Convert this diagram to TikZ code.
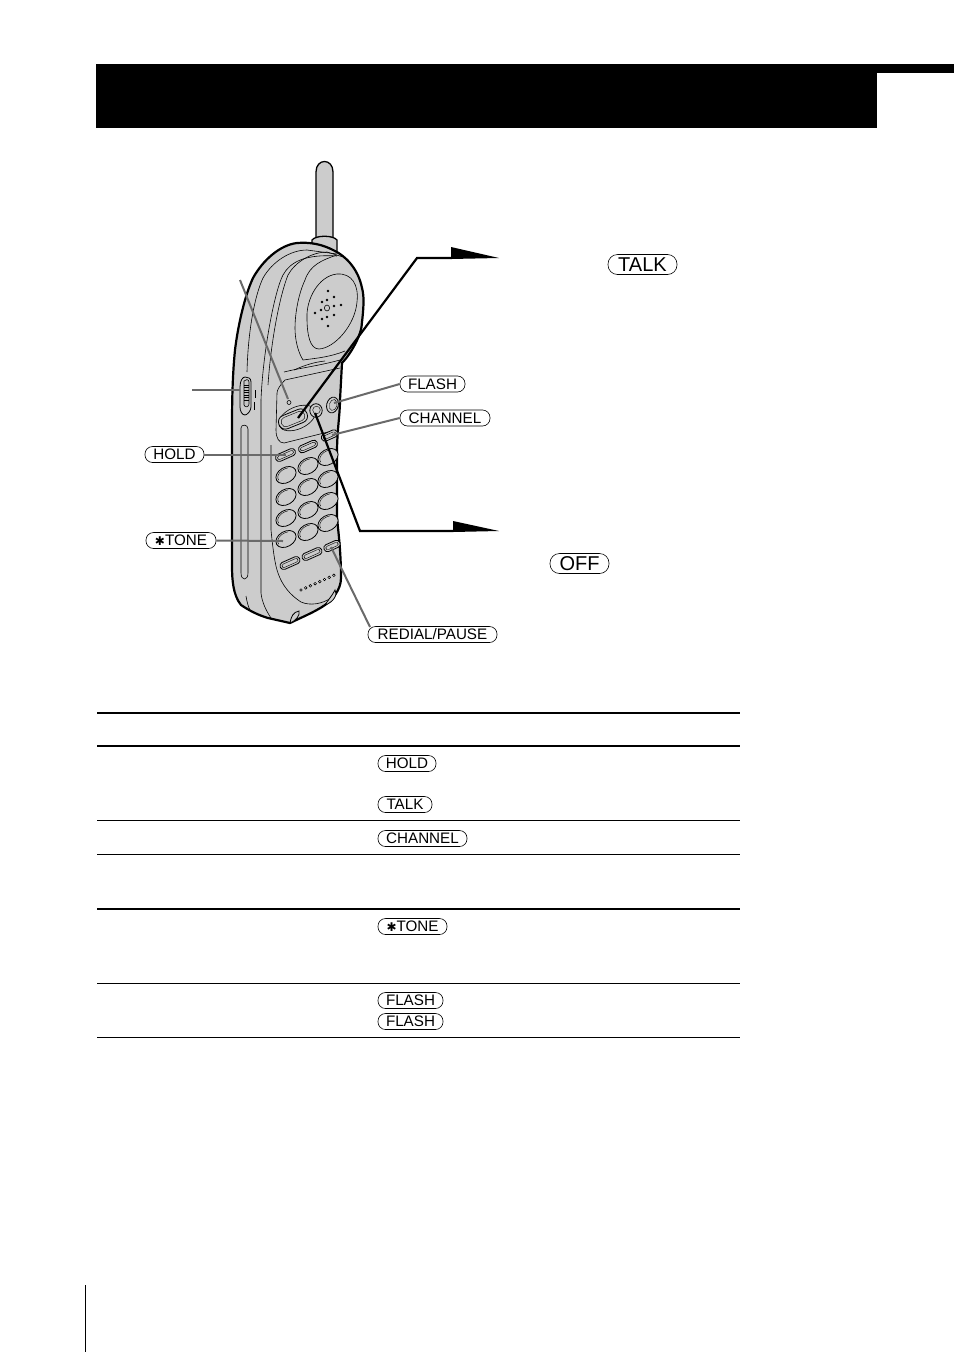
\documentclass[tikz,border=0pt]{standalone}
\usepackage{fontspec}
\setmainfont{Liberation Sans}
\newfontfamily\symfont{DejaVu Sans}
\definecolor{body}{HTML}{CCCCCC}
\definecolor{leader}{HTML}{6A6A6A}
\tikzset{
  keycap/.style={draw=black,line width=0.6pt,fill=white,rounded corners=7.5pt,inner sep=0pt,minimum height=16pt,font=\fontsize{15.2}{15.2}\selectfont,anchor=center},
  bigkey/.style={keycap,minimum height=20pt,rounded corners=9.5pt,font=\fontsize{20}{20}\selectfont},
  shell/.style={draw=black,line width=2.2pt,fill=body,line join=round},
  thinline/.style={draw=black,line width=0.6pt},
  btnkey/.style={draw=black,line width=0.8pt,fill=body},
  leaderline/.style={draw=leader,line width=2pt},
  callout/.style={draw=black,line width=2.2pt,line join=miter},
  heavyrule/.style={draw=black,line width=2pt},
  lightrule/.style={draw=black,line width=1pt}
}
\newcommand{\starmark}{{\symfont\fontsize{12}{12}\selectfont ✱}}
\newcommand{\phbtn}[5]{\draw[btnkey,shift={(#1,#2)},rotate=#5] (0,0) ellipse [x radius=#3,y radius=#4];}
% small double-lined key
\newcommand{\slimkey}[3]{\begin{scope}[shift={(#1,#2)},rotate=24]
  \draw[btnkey,rounded corners=3.4pt] (-#3,-3.7) rectangle (#3,3.7);
  \draw[line width=0.4pt,rounded corners=2pt] (-#3+2,-1.8) rectangle (#3-2,1.8);
\end{scope}}
% keypad key with a partial inner rim
\newcommand{\padkey}[2]{\begin{scope}[shift={(#1,#2)},rotate=30]
  \draw[btnkey] (0,0) ellipse [x radius=10.8,y radius=7.6];
  \draw[line width=0.4pt] (-8.8,1) arc[start angle=170,end angle=300,x radius=9.4,y radius=6];
\end{scope}}
\begin{document}
\begin{tikzpicture}[x=1pt,y=-1pt]
\useasboundingbox (0,0) rectangle (954,1352);
% title bar
\fill[black] (96,64) rectangle (877,128);
\fill[black] (877,64) rectangle (954,73);
\draw[black,line width=1pt] (85,1285) -- (85,1352);
% antenna
\draw[shell,line width=1.3pt] (316,240) -- (316,172) .. controls (316,158) and (333,158) .. (333,172) -- (333,240);
\draw[shell,line width=1.3pt] (312,254) -- (312,240) .. controls (316,235) and (333,235) .. (337,240) -- (337,256);
% body
\draw[shell] (297,243)
  .. controls (280,245) and (263,260) .. (253,278)
  .. controls (245,295) and (238,325) .. (235,350)
  .. controls (232,380) and (232,410) .. (232,433)
  -- (232,565)
  .. controls (232,580) and (233,595) .. (241,605)
  .. controls (250,611) and (258,615) .. (268,618)
  -- (290,623)
  .. controls (300,618) and (315,612) .. (325,605)
  .. controls (332,600) and (341,590) .. (341,578)
  .. controls (341,550) and (338,530) .. (337,517)
  -- (337,453)
  .. controls (337,430) and (340,415) .. (340,400)
  -- (342,363)
  .. controls (350,355) and (362,335) .. (362,322)
  .. controls (364,305) and (364,295) .. (362,288)
  .. controls (358,268) and (345,256) .. (335,251)
  .. controls (322,244) and (310,242) .. (297,243) -- cycle;
% body contour lines
\draw[thinline] (247,372) .. controls (248,330) and (255,295) .. (263,278) .. controls (272,262) and (290,250) .. (307,250) -- (337,254);
\draw[thinline] (261,400) -- (261,593) .. controls (262,603) and (267,612) .. (271,618);
\draw[thinline] (261,400) .. controls (263,350) and (275,290) .. (283,275) .. controls (290,262) and (305,254) .. (337,256);
\draw[thinline] (268,385) .. controls (271,340) and (280,295) .. (288,275) .. controls (295,262) and (312,252) .. (327,252) -- (343,257);
% speaker
\draw[thinline] (337,255) .. controls (322,260) and (310,265) .. (305,280) .. controls (298,295) and (295,315) .. (295,328)
  .. controls (295,340) and (298,352) .. (303,360) .. controls (318,358) and (330,357) .. (345,351);
\draw[thinline] (307,318) .. controls (306,300) and (318,276) .. (337,274)
  .. controls (352,273) and (359,285) .. (357,302)
  .. controls (355,325) and (335,348) .. (319,349)
  .. controls (310,349) and (307,335) .. (307,318) -- cycle;
\foreach \x/\y in {328/291,327/300,322/302,334/297,315/313,321/310,334/306,341/305,322/319,327/317,334/315,328/326}
  \fill[black] (\x,\y) circle (1.3);
\draw[thinline,fill=body] (327,308) ellipse [x radius=2.6,y radius=3];
% panel round the talk buttons
\draw[thinline] (284,372) .. controls (300,368) and (318,366) .. (340,360);
\draw[thinline] (294,370) .. controls (305,365) and (315,362) .. (325,361);
\draw[thinline] (340,368) -- (285,380) .. controls (280,385) and (277,390) .. (277,393) -- (276,430) .. controls (276,438) and (279,443) .. (284,443) -- (328,432);
% side switch
\draw[btnkey] (240,387) .. controls (240,380) and (243,377) .. (245,377) .. controls (248,377) and (251,378) .. (251,382) -- (251,407) .. controls (251,411) and (247,415) .. (245,415) .. controls (242,415) and (240,411) .. (240,407) -- cycle;
\draw[thinline,fill=gray!45] (244,381) .. controls (245,379) and (249,379) .. (249,382) -- (249,404) .. controls (249,407) and (245,408) .. (244,405) -- cycle;
\foreach \y in {385,387.5,390,392.5,395,397.5,400} \draw[line width=0.5pt] (244,\y) -- (249,\y);
\draw[line width=0.5pt] (255,390) -- (255,398) (254,402) -- (254,410);
% slit
\draw[thinline] (241,428) .. controls (241,424) and (248,424) .. (248,429) -- (248,573) .. controls (248,581) and (241,581) .. (241,573) -- cycle;
% foot line at lower left
\draw[thinline] (246,596) .. controls (247,602) and (248,606) .. (250,610);
% keypad panel
\draw[thinline] (271,445) -- (271,530) .. controls (273,550) and (275,565) .. (278,573) .. controls (282,585) and (290,595) .. (301,602) .. controls (310,606) and (322,604) .. (331,598);
% LED
\draw[thinline,fill=body] (289,402.5) circle (2);
% talk and off buttons
\draw[thinline,rotate around={24:(297,418)}] (297,418) ellipse [x radius=19.5,y radius=11];
\begin{scope}[shift={(293,419)},rotate=22]
  \draw[btnkey,rounded corners=6.5pt] (-15,-7) rectangle (15,7);
  \draw[line width=0.4pt,rounded corners=4.5pt] (-12.5,-4.8) rectangle (12.5,4.8);
\end{scope}
\phbtn{316}{410.5}{6.2}{6.8}{0}
\draw[line width=0.4pt] (316.5,410) circle (3.8);
\begin{scope}[shift={(332.5,405)},rotate=-15]
  \draw[btnkey] (0,0) ellipse [x radius=5.8,y radius=8];
  \draw[line width=0.4pt] (0.6,-0.2) ellipse [x radius=3.8,y radius=5.6];
\end{scope}
\slimkey{285.5}{455}{10.5}
\slimkey{308}{446.5}{10}
\slimkey{329.5}{435.5}{8.5}
\foreach \x/\y in {286/475,308/466,328/457,286/497,308/487,328/479,286/518,308/510,328/501,286/539,308/532,328/523}
  {\padkey{\x}{\y}}
\slimkey{290}{563}{10.5}
\slimkey{312}{554}{10.5}
\slimkey{332}{546}{8.5}
\foreach \i in {0,...,7} \draw[thinline,fill=white] (301+\i*4.7,590-\i*2.1) circle (1.3);
% feet
\draw[btnkey] (290,623) .. controls (291,617) and (293,612) .. (299,611) .. controls (300,615) and (297,620) .. (290,623) -- cycle;
\draw[btnkey] (325,605) .. controls (328,600) and (332,596) .. (335,590) .. controls (338,594) and (334,602) .. (325,605) -- cycle;
% labels
\node[keycap,minimum width=65pt] (flash) at (432.5,384) {FLASH};
\node[keycap,minimum width=90pt] (channel) at (445,418) {CHANNEL};
\node[keycap,minimum width=59pt] (hold) at (174.5,454.5) {HOLD};
\node[keycap,minimum width=70pt] (tone) at (181,540.5) {\starmark TONE};
\node[keycap,minimum width=129pt] (redial) at (432.5,634.5) {REDIAL/PAUSE};
\node[bigkey,minimum width=69pt] (talk) at (642.5,264.5) {TALK};
\node[bigkey,minimum width=59pt] (off) at (579.5,563.5) {OFF};
% leader ends
\coordinate (ledstart) at (240,280);
\coordinate (ledend) at (288,399);
\coordinate (swstart) at (192,390);
\coordinate (swend) at (240,390);
\coordinate (holdend) at (286,454.5);
\coordinate (toneend) at (283,541);
\coordinate (flashend) at (334,403);
\coordinate (chend) at (332,435);
\coordinate (redend) at (331,547);
\coordinate (redstart) at (370,627);
\draw[leaderline] (ledstart) -- (ledend);
\draw[leaderline] (swstart) -- (swend);
\draw[leaderline] (hold.east) -- (holdend);
\draw[leaderline] (tone.east) -- (toneend);
\draw[leaderline] (flash.west) -- (flashend);
\draw[leaderline] (channel.west) -- (chend);
\draw[leaderline] (redstart) -- (redend);
% callouts
\coordinate (talkbtn) at (298,418);
\coordinate (elbowa) at (417,258);
\coordinate (tipa) at (499,258);
\coordinate (baraa) at (452,258);
\coordinate (offbtn) at (315,413);
\coordinate (elbowb) at (360,531);
\coordinate (tipb) at (499,531);
\coordinate (barab) at (453,531);
\draw[callout] (talkbtn) -- (elbowa) -- (baraa);
\fill[black] (451,247) -- (tipa) -- (451,259) -- cycle;
\draw[callout] (offbtn) -- (elbowb) -- (barab);
\fill[black] (453,521) -- (tipb) -- (453,532) -- cycle;
% table
\foreach \y in {713,746,909} \draw[heavyrule] (97,\y) -- (740,\y);
\foreach \y in {820.5,854.5,983.5,1037.5} \draw[lightrule] (97,\y) -- (740,\y);
\node[keycap,minimum width=58pt] (thold) at (407,763.5) {HOLD};
\node[keycap,minimum width=54pt] (ttalk) at (405,804.5) {TALK};
\node[keycap,minimum width=89pt] (tchan) at (422.5,838.5) {CHANNEL};
\node[keycap,minimum width=69pt] (ttone) at (412.5,926.5) {\starmark TONE};
\node[keycap,minimum width=65pt] (tflasha) at (410.5,1000.5) {FLASH};
\node[keycap,minimum width=65pt] (tflashb) at (410.5,1021.5) {FLASH};
\end{tikzpicture}
\end{document}
